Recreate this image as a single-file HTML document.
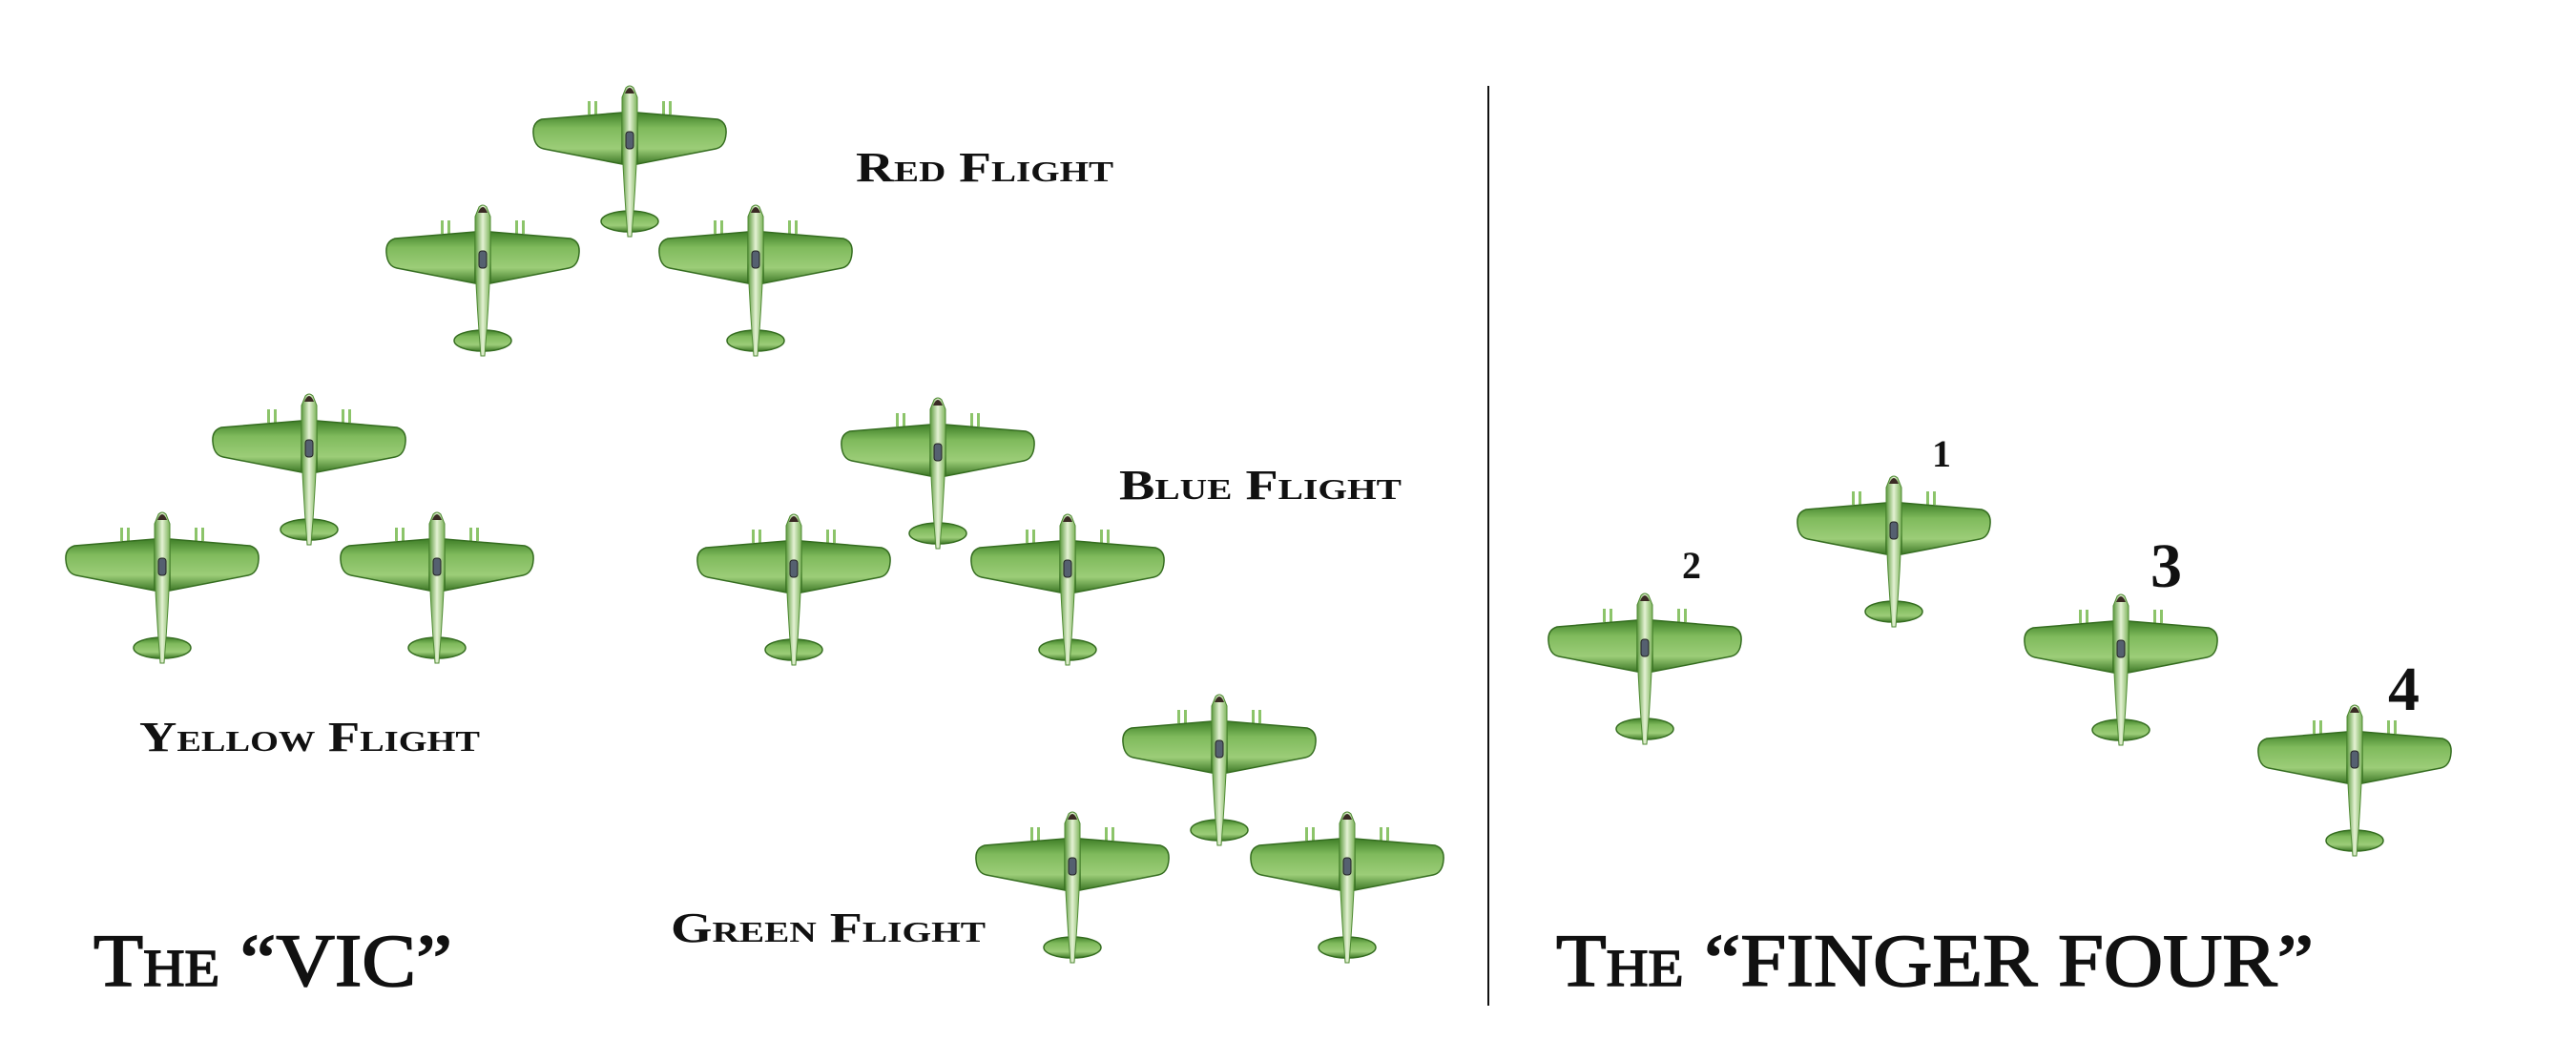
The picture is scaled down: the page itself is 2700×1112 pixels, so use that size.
<!DOCTYPE html>
<html><head><meta charset="utf-8"><style>
html,body{margin:0;padding:0;background:#fff;}
svg{display:block;}
text{font-family:"Liberation Serif",serif;fill:#111;}
</style></head><body>
<svg width="2700" height="1112" viewBox="0 0 2700 1112" xmlns="http://www.w3.org/2000/svg">
<defs>
<linearGradient id="wg" x1="0" y1="0" x2="0" y2="1">
<stop offset="0" stop-color="#3f7f28"/><stop offset="0.3" stop-color="#7fba5c"/><stop offset="0.7" stop-color="#9ccd78"/><stop offset="1" stop-color="#3d7826"/>
</linearGradient>
<linearGradient id="fg" x1="0" y1="0" x2="1" y2="0">
<stop offset="0" stop-color="#5d9a3e"/><stop offset="0.5" stop-color="#e4f2d4"/><stop offset="1" stop-color="#7cb35a"/>
</linearGradient>
<g id="p">
<rect x="-44" y="16" width="3" height="14" fill="#8cc46a"/><rect x="-37" y="16" width="3" height="14" fill="#8cc46a"/>
<rect x="34" y="16" width="3" height="14" fill="#8cc46a"/><rect x="41" y="16" width="3" height="14" fill="#8cc46a"/>
<path d="M-8,28 L-92,35 Q-102,38 -101,50 Q-100,64 -90,66 L-8,82 Z M8,28 L92,35 Q102,38 101,50 Q100,64 90,66 L8,82 Z" fill="url(#wg)" stroke="#356d20" stroke-width="1.5"/>
<ellipse cx="0" cy="142" rx="30" ry="11" fill="url(#wg)" stroke="#356d20" stroke-width="1.5"/>
<path d="M-4,2 Q0,-2 4,2 L8,12 L8,60 Q6,110 2,158 L-2,158 Q-6,110 -8,60 L-8,12 Z" fill="url(#fg)" stroke="#4f8a33" stroke-width="1"/>
<path d="M-5,8 Q0,-4 5,8 Z" fill="#3a2a24"/>
<rect x="-4" y="48" width="8" height="18" rx="3" fill="#556070" stroke="#222" stroke-width="1"/>
</g>
</defs>
<line x1="1560" y1="90" x2="1560" y2="1054" stroke="#111" stroke-width="2"/>
<use href="#p" x="660" y="90"/><use href="#p" x="506" y="215"/><use href="#p" x="792" y="215"/>
<use href="#p" x="324" y="413"/><use href="#p" x="170" y="537"/><use href="#p" x="458" y="537"/>
<use href="#p" x="983" y="417"/><use href="#p" x="832" y="539"/><use href="#p" x="1119" y="539"/>
<use href="#p" x="1278" y="728"/><use href="#p" x="1124" y="851"/><use href="#p" x="1412" y="851"/>
<use href="#p" x="1985" y="499"/><use href="#p" x="1724" y="622"/><use href="#p" x="2223" y="623"/><use href="#p" x="2468" y="739"/>
<g font-weight="bold" font-size="44" style="font-variant:small-caps">
<text x="897" y="190" textLength="270" lengthAdjust="spacingAndGlyphs">Red Flight</text>
<text x="1173" y="523" textLength="296" lengthAdjust="spacingAndGlyphs">Blue Flight</text>
<text x="146" y="787" textLength="357" lengthAdjust="spacingAndGlyphs">Yellow Flight</text>
<text x="703" y="987" textLength="330" lengthAdjust="spacingAndGlyphs">Green Flight</text>
</g>
<g font-size="78" style="font-variant:small-caps" stroke="#111" stroke-width="1.6">
<text x="98" y="1033" textLength="376" lengthAdjust="spacingAndGlyphs">The “VIC”</text>
<text x="1631" y="1033" textLength="794" lengthAdjust="spacingAndGlyphs">The “FINGER FOUR”</text>
</g>
<g font-weight="bold">
<text x="2025" y="489" font-size="40">1</text>
<text x="1763" y="606" font-size="40">2</text>
<text x="2254" y="615" font-size="66">3</text>
<text x="2503" y="744" font-size="66">4</text>
</g>
</svg>
</body></html>
